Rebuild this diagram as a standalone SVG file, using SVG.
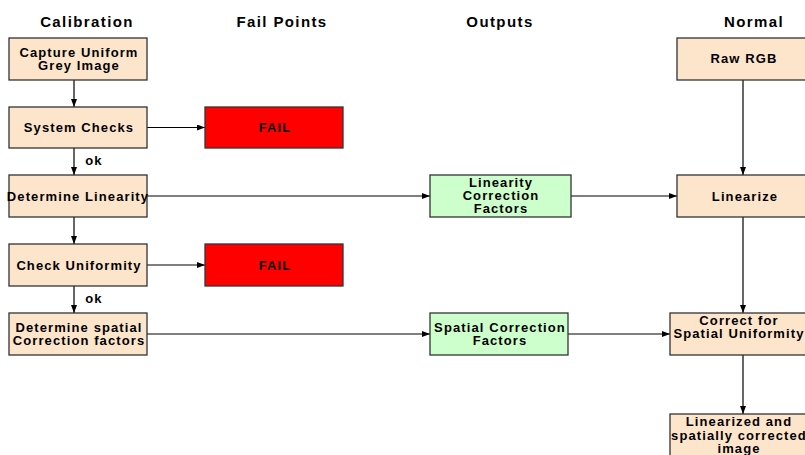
<svg xmlns="http://www.w3.org/2000/svg" width="805" height="455" viewBox="0 0 805 455">
<style>
text{font-family:"Liberation Sans",Arial,sans-serif;font-weight:bold;fill:#000;text-anchor:middle}
.h{font-size:15px;letter-spacing:1.4px}
.t{font-size:13px;letter-spacing:1.1px}
.peach{fill:#FDE5CC;stroke:#333;stroke-width:1.3}
.green{fill:#CCFFCC;stroke:#333;stroke-width:1.3}
.red{fill:#FF0000;stroke:#333;stroke-width:1.3}
.c{fill:none;stroke:#000;stroke-width:1.2;marker-end:url(#ah)}
</style>
<defs>
<marker id="ah" viewBox="0 0 8 6" refX="8" refY="3" markerWidth="8" markerHeight="6" markerUnits="userSpaceOnUse" orient="auto">
<path d="M0,0 L8,3 L0,6 Z" fill="#000"/>
</marker>
</defs>
<rect width="805" height="455" fill="#fff"/>
<g id="headers">
<text class="h" x="87" y="27">Calibration</text>
<text class="h" x="282" y="27">Fail Points</text>
<text class="h" x="500" y="27">Outputs</text>
<text class="h" x="754" y="27">Normal</text>
</g>
<g id="connectors">
<path class="c" d="M74,80 V107"/>
<path class="c" d="M147,127.5 H205"/>
<path class="c" d="M74,148 V175"/>
<path class="c" d="M147,196 H430"/>
<path class="c" d="M571,196 H677"/>
<path class="c" d="M74,217 V244"/>
<path class="c" d="M147,265 H205"/>
<path class="c" d="M74,286 V313"/>
<path class="c" d="M147,334 H430"/>
<path class="c" d="M568,334 H670"/>
<path class="c" d="M743,80 V175"/>
<path class="c" d="M743,217 V313"/>
<path class="c" d="M743,355 V414"/>
<text class="t" x="94" y="165">ok</text>
<text class="t" x="94" y="303">ok</text>
</g>
<g id="capture">
<rect class="peach" x="9" y="38" width="138" height="42"/>
<text class="t" x="79" y="57">Capture Uniform</text>
<text class="t" x="79" y="70">Grey Image</text>
</g>
<g id="system-checks">
<rect class="peach" x="9" y="107" width="138" height="41"/>
<text class="t" x="79" y="132">System Checks</text>
</g>
<g id="fail1">
<rect class="red" x="205" y="107" width="138" height="41"/>
<text class="t" x="275" y="132">FAIL</text>
</g>
<g id="determine-linearity">
<rect class="peach" x="9" y="175" width="138" height="42"/>
<text class="t" x="78" y="201">Determine Linearity</text>
</g>
<g id="check-uniformity">
<rect class="peach" x="9" y="244" width="138" height="42"/>
<text class="t" x="79" y="270">Check Uniformity</text>
</g>
<g id="fail2">
<rect class="red" x="205" y="244" width="138" height="42"/>
<text class="t" x="275" y="270">FAIL</text>
</g>
<g id="determine-spatial">
<rect class="peach" x="9" y="313" width="138" height="42"/>
<text class="t" x="79" y="332">Determine spatial</text>
<text class="t" x="79" y="345">Correction factors</text>
</g>
<g id="linearity-correction">
<rect class="green" x="430" y="175" width="141" height="42"/>
<text class="t" x="501" y="187">Linearity</text>
<text class="t" x="501" y="200">Correction</text>
<text class="t" x="501" y="213">Factors</text>
</g>
<g id="spatial-correction">
<rect class="green" x="430" y="313" width="138" height="42"/>
<text class="t" x="500" y="332">Spatial Correction</text>
<text class="t" x="500" y="345">Factors</text>
</g>
<g id="raw-rgb">
<rect class="peach" x="677" y="38" width="132" height="42"/>
<text class="t" x="744" y="63">Raw RGB</text>
</g>
<g id="linearize">
<rect class="peach" x="677" y="175" width="132" height="42"/>
<text class="t" x="745" y="201">Linearize</text>
</g>
<g id="correct-spatial">
<rect class="peach" x="670" y="313" width="146" height="42"/>
<text class="t" x="739" y="325">Correct for</text>
<text class="t" x="739" y="338">Spatial Uniformity</text>
</g>
<g id="final-image">
<rect class="peach" x="670" y="414" width="146" height="44"/>
<text class="t" x="739" y="426">Linearized and</text>
<text class="t" x="739" y="440">spatially corrected</text>
<text class="t" x="739" y="453">image</text>
</g>
</svg>
